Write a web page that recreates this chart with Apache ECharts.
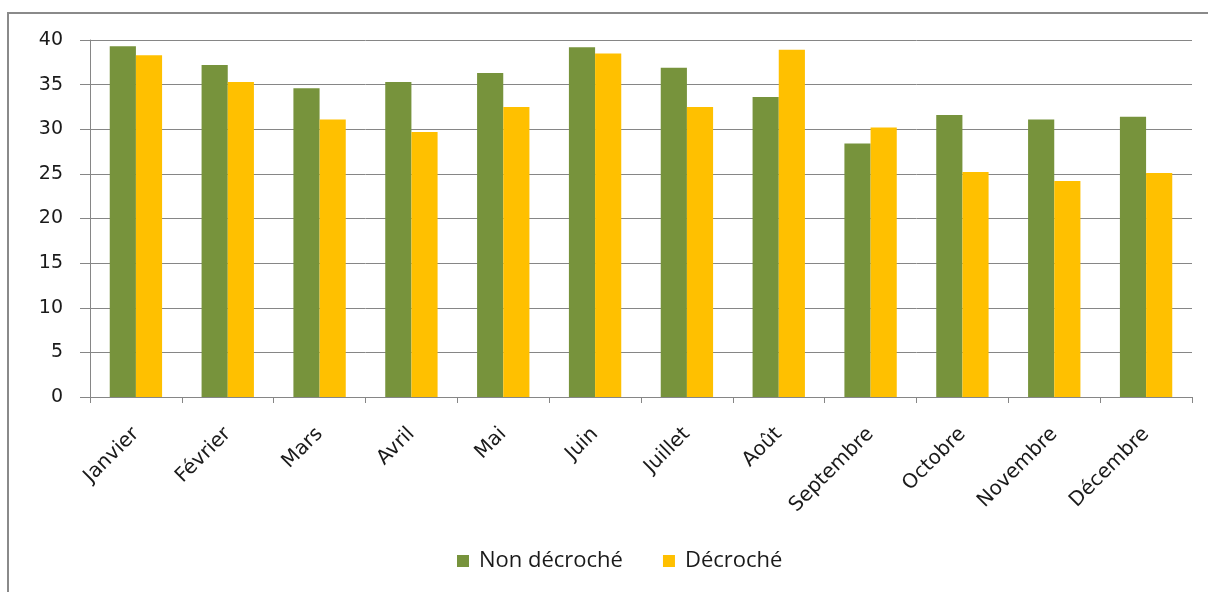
<!DOCTYPE html>
<html>
<head>
<meta charset="utf-8">
<script src="https://cdn.jsdelivr.net/npm/echarts@6/dist/echarts.min.js"></script>
<style>
  html, body { margin: 0; padding: 0; background: #ffffff; overflow: hidden; }
  #chart { width: 1208px; height: 592px; }
</style>
</head>
<body>
<div id="chart"></div>
<script>
// Months shown along the category axis
const months = ['Janvier', 'Février', 'Mars', 'Avril', 'Mai', 'Juin',
                'Juillet', 'Août', 'Septembre', 'Octobre', 'Novembre', 'Décembre'];

// Series values per month
const nonDecroche = [39.3, 37.2, 34.6, 35.3, 36.3, 39.2, 36.9, 33.6, 28.4, 31.6, 31.1, 31.4];
const decroche    = [38.3, 35.3, 31.1, 29.7, 32.5, 38.5, 32.5, 38.9, 30.2, 25.2, 24.2, 25.1];

const seriesNames = ['Non décroché', 'Décroché'];

// Value axis range
const yMin = 0, yMax = 40, yStep = 5;

const chart = echarts.init(document.getElementById('chart'), null, { renderer: 'canvas' });

const axisFont = 'DejaVu Sans, Verdana, sans-serif';
const gray = '#868686';

chart.setOption({
  animation: false,
  backgroundColor: '#ffffff',
  // outer frame: left edge and top edge of the chart area box
  graphic: [{
    type: 'polyline',
    shape: { points: [[8, 600], [8, 13], [1208, 13]] },
    style: { fill: 'none', stroke: '#8a8a8a', lineWidth: 2 },
    silent: true
  }],
  grid: { left: 90, right: 16, top: 40, bottom: 195 },
  legend: {
    data: seriesNames,
    left: 457,
    top: 550,
    padding: 0,
    itemWidth: 12,
    itemHeight: 12,
    itemGap: 40,
    icon: 'rect',
    textStyle: { fontFamily: 'Open Sans, sans-serif', fontSize: 22, color: '#1a1a1a', padding: [0, 0, 0, 5] }
  },
  xAxis: {
    type: 'category',
    data: months,
    boundaryGap: true,
    axisLine: { lineStyle: { color: gray, width: 1 } },
    axisTick: { show: true, length: 6, lineStyle: { color: gray } },
    axisLabel: {
      rotate: 45,
      margin: 34,
      fontFamily: axisFont,
      fontSize: 20,
      color: '#1a1a1a',
      interval: 0
    },
    splitLine: { show: false }
  },
  yAxis: {
    type: 'value',
    min: yMin,
    max: yMax,
    interval: yStep,
    axisLine: { show: true, lineStyle: { color: gray, width: 1 } },
    axisTick: { show: true, inside: false, length: 10, lineStyle: { color: gray } },
    axisLabel: {
      margin: 27,
      fontFamily: axisFont,
      fontSize: 19,
      color: '#1a1a1a'
    },
    splitLine: { show: true, lineStyle: { color: gray, width: 1 } }
  },
  series: [
    {
      name: seriesNames[0],
      type: 'bar',
      data: nonDecroche,
      barGap: '0%',
      barCategoryGap: '43%',
      itemStyle: { color: '#77933C' }
    },
    {
      name: seriesNames[1],
      type: 'bar',
      data: decroche,
      barGap: '0%',
      barCategoryGap: '43%',
      itemStyle: { color: '#FFC000' }
    }
  ]
});
</script>
</body>
</html>
